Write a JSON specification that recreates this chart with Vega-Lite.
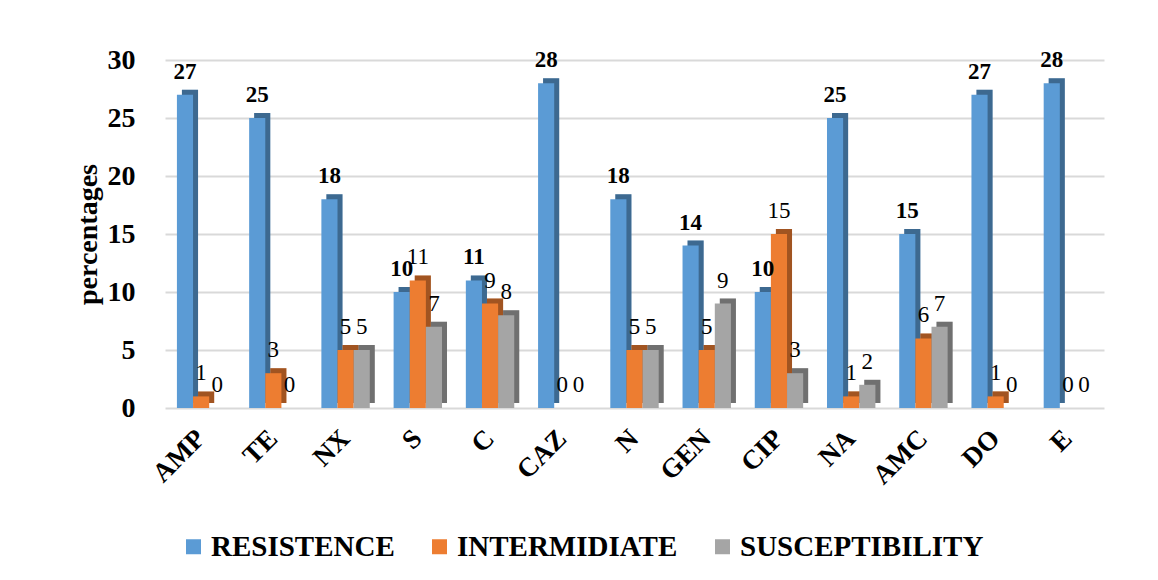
{
  "$schema": "https://vega.github.io/schema/vega-lite/v6.json",
  "autosize": {"type": "none"},
  "padding": {"left": 165, "top": 60, "right": 54, "bottom": 172},
  "width": 939,
  "height": 348,
  "background": "white",
  "data": {
    "values": [
      {"drug": "AMP", "series": "RESISTENCE", "value": 27},
      {"drug": "AMP", "series": "INTERMIDIATE", "value": 1},
      {"drug": "AMP", "series": "SUSCEPTIBILITY", "value": 0},
      {"drug": "TE", "series": "RESISTENCE", "value": 25},
      {"drug": "TE", "series": "INTERMIDIATE", "value": 3},
      {"drug": "TE", "series": "SUSCEPTIBILITY", "value": 0},
      {"drug": "NX", "series": "RESISTENCE", "value": 18},
      {"drug": "NX", "series": "INTERMIDIATE", "value": 5},
      {"drug": "NX", "series": "SUSCEPTIBILITY", "value": 5},
      {"drug": "S", "series": "RESISTENCE", "value": 10},
      {"drug": "S", "series": "INTERMIDIATE", "value": 11},
      {"drug": "S", "series": "SUSCEPTIBILITY", "value": 7},
      {"drug": "C", "series": "RESISTENCE", "value": 11},
      {"drug": "C", "series": "INTERMIDIATE", "value": 9},
      {"drug": "C", "series": "SUSCEPTIBILITY", "value": 8},
      {"drug": "CAZ", "series": "RESISTENCE", "value": 28},
      {"drug": "CAZ", "series": "INTERMIDIATE", "value": 0},
      {"drug": "CAZ", "series": "SUSCEPTIBILITY", "value": 0},
      {"drug": "N", "series": "RESISTENCE", "value": 18},
      {"drug": "N", "series": "INTERMIDIATE", "value": 5},
      {"drug": "N", "series": "SUSCEPTIBILITY", "value": 5},
      {"drug": "GEN", "series": "RESISTENCE", "value": 14},
      {"drug": "GEN", "series": "INTERMIDIATE", "value": 5},
      {"drug": "GEN", "series": "SUSCEPTIBILITY", "value": 9},
      {"drug": "CIP", "series": "RESISTENCE", "value": 10},
      {"drug": "CIP", "series": "INTERMIDIATE", "value": 15},
      {"drug": "CIP", "series": "SUSCEPTIBILITY", "value": 3},
      {"drug": "NA", "series": "RESISTENCE", "value": 25},
      {"drug": "NA", "series": "INTERMIDIATE", "value": 1},
      {"drug": "NA", "series": "SUSCEPTIBILITY", "value": 2},
      {"drug": "AMC", "series": "RESISTENCE", "value": 15},
      {"drug": "AMC", "series": "INTERMIDIATE", "value": 6},
      {"drug": "AMC", "series": "SUSCEPTIBILITY", "value": 7},
      {"drug": "DO", "series": "RESISTENCE", "value": 27},
      {"drug": "DO", "series": "INTERMIDIATE", "value": 1},
      {"drug": "DO", "series": "SUSCEPTIBILITY", "value": 0},
      {"drug": "E", "series": "RESISTENCE", "value": 28},
      {"drug": "E", "series": "INTERMIDIATE", "value": 0},
      {"drug": "E", "series": "SUSCEPTIBILITY", "value": 0}
    ]
  },
  "encoding": {
    "x": {
      "field": "drug",
      "type": "nominal",
      "sort": null,
      "scale": {"paddingInner": 0.33, "paddingOuter": 0.165},
      "axis": {
        "title": null,
        "labelAngle": -45,
        "labelAlign": "right",
        "labelBaseline": "middle",
        "labelFontWeight": "bold",
        "labelFontSize": 27,
        "labelColor": "#000000",
        "labelPadding": 26,
        "ticks": false,
        "domain": false,
        "grid": false
      }
    },
    "y": {
      "field": "value",
      "type": "quantitative",
      "scale": {"domain": [0, 30], "nice": false},
      "axis": {
        "title": "percentages",
        "titleFontWeight": "bold",
        "titleFontSize": 28,
        "titleColor": "#000000",
        "titleX": -77,
        "titleY": 174,
        "titleAngle": -90,
        "titleBaseline": "middle",
        "titleAlign": "center",
        "values": [0, 5, 10, 15, 20, 25, 30],
        "labelFontWeight": "bold",
        "labelFontSize": 28,
        "labelColor": "#000000",
        "labelPadding": 30,
        "ticks": false,
        "domain": false,
        "grid": true,
        "gridColor": "#d9d9d9",
        "gridWidth": 2
      }
    },
    "color": {
      "field": "series",
      "type": "nominal",
      "scale": {"domain": ["RESISTENCE", "INTERMIDIATE", "SUSCEPTIBILITY"], "range": ["#5b9bd5", "#ed7d31", "#a5a5a5"]},
      "legend": {
        "title": null,
        "orient": "none",
        "direction": "horizontal",
        "legendX": 14,
        "legendY": 472,
        "labelFont": "Liberation Serif",
        "labelFontWeight": "bold",
        "labelFontSize": 29
      }
    }
  },
  "layer": [
    {
      "encoding": {
        "xOffset": {
          "field": "series",
          "type": "nominal",
          "sort": ["RESISTENCE", "INTERMIDIATE", "SUSCEPTIBILITY"],
          "scale": {"paddingInner": 0, "paddingOuter": 0, "range": [5, 53.4]}
        }
      },
      "layer": [
        {"mark": {"type": "bar", "yOffset": -5, "y2Offset": -5}},
        {
          "mark": {"type": "bar", "yOffset": -5, "y2Offset": -5, "opacity": 0.32},
          "encoding": {"color": {"value": "#000000"}}
        }
      ]
    },
    {
      "encoding": {
        "xOffset": {
          "field": "series",
          "type": "nominal",
          "sort": ["RESISTENCE", "INTERMIDIATE", "SUSCEPTIBILITY"],
          "scale": {"paddingInner": 0, "paddingOuter": 0, "range": [0, 48.4]}
        }
      },
      "layer": [
        {"mark": {"type": "bar"}},
        {
          "transform": [{"filter": "datum.series === 'RESISTENCE'"}],
          "mark": {"type": "text", "fontWeight": "bold", "fontSize": 23, "baseline": "alphabetic", "dy": -16},
          "encoding": {"text": {"field": "value", "type": "quantitative"}, "color": {"value": "#000000"}}
        },
        {
          "transform": [{"filter": "datum.series !== 'RESISTENCE'"}],
          "mark": {"type": "text", "fontSize": 23, "baseline": "alphabetic", "dy": -16},
          "encoding": {"text": {"field": "value", "type": "quantitative"}, "color": {"value": "#000000"}}
        }
      ]
    }
  ],
  "resolve": {"scale": {"xOffset": "independent"}},
  "config": {
    "font": "Liberation Serif",
    "view": {"stroke": null},
    "legend": {
      "symbolType": "square",
      "symbolSize": 225,
      "symbolStrokeWidth": 0,
      "labelFont": "Liberation Serif",
      "labelFontWeight": "bold",
      "labelFontSize": 29,
      "labelColor": "#000000",
      "labelOffset": 3,
      "columnPadding": 30,
      "labelLimit": 400
    }
  }
}
